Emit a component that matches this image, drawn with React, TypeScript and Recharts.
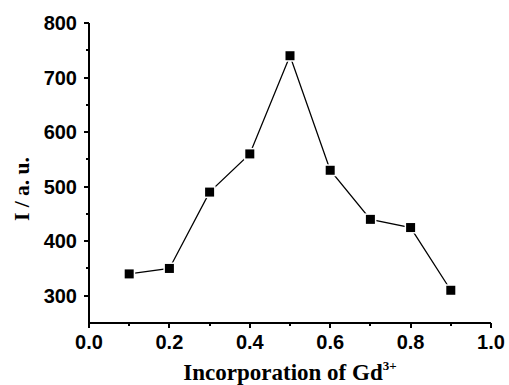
import React from 'react';
import { LineChart, Line, XAxis, YAxis, Label, ReferenceLine } from 'recharts';

const gdFraction = [0.1, 0.2, 0.3, 0.4, 0.5, 0.6, 0.7, 0.8, 0.9];
const intensity = [340, 350, 490, 560, 740, 530, 440, 425, 310];

const xTickValues = [0, 0.1, 0.2, 0.3, 0.4, 0.5, 0.6, 0.7, 0.8, 0.9, 1.0];
const xMajorValues = [0, 0.2, 0.4, 0.6, 0.8, 1.0];
const xMajorLabels = ['0.0', '0.2', '0.4', '0.6', '0.8', '1.0'];

const yTickValues = [300, 350, 400, 450, 500, 550, 600, 650, 700, 750, 800];
const yMajorValues = [300, 400, 500, 600, 700, 800];
const yMajorLabels = ['300', '400', '500', '600', '700', '800'];

const xDomain = [0, 1];
const yDomain = [250, 800];

const xTitle = 'Incorporation of Gd';
const xTitleSup = '3+';
const yTitle = 'I / a. u.';

const data = gdFraction.map((x, i) => ({ x, y: intensity[i] }));

const TICK_FONT = { fontFamily: '"Liberation Sans", Arial, sans-serif', fontWeight: 700, fontSize: 20, fill: '#000' };
const TITLE_FONT = { fontFamily: '"Liberation Serif", "Times New Roman", serif', fontWeight: 700, fill: '#000' };

const findMajor = (values: number[], v: number) => values.findIndex((m) => Math.abs(m - v) < 1e-6);

const XTick = (props: any) => {
  const { x, y, payload } = props;
  const idx = findMajor(xMajorValues, payload.value);
  const major = idx >= 0;
  const px = Math.round(x);
  return (
    <g>
      <rect x={px - 1} y={y} width={2} height={major ? 5 : 3} fill="#000" />
      {major && (
        <text x={x} y={y + 12} dy="0.71em" textAnchor="middle" style={TICK_FONT}>
          {xMajorLabels[idx]}
        </text>
      )}
    </g>
  );
};

const YTick = (props: any) => {
  const { x, y, payload } = props;
  const idx = findMajor(yMajorValues, payload.value);
  const major = idx >= 0;
  const py = Math.round(y);
  const len = major ? 5 : 3;
  return (
    <g>
      <rect x={x - len} y={py - 1} width={len} height={2} fill="#000" />
      {major && (
        <text x={x - 12} y={y} dy="0.355em" textAnchor="end" style={TICK_FONT}>
          {yMajorLabels[idx]}
        </text>
      )}
    </g>
  );
};

const SquareDot = (props: any) => {
  const { cx, cy, index } = props;
  if (cx == null || cy == null) return <g key={`d${index}`} />;
  return (
    <g key={`d${index}`}>
      <rect x={cx - 6} y={cy - 6} width={12} height={12} fill="#fff" />
      <rect x={cx - 4.5} y={cy - 4.5} width={9} height={9} fill="#000" />
    </g>
  );
};

export default function App() {
  return (
    <div style={{ position: 'absolute', left: 0, top: 0, width: 509, height: 385, background: '#fff' }}>
      <LineChart width={509} height={385} data={data} margin={{ top: 23, right: 18, bottom: 0, left: 0 }}>
        <XAxis
          dataKey="x"
          type="number"
          domain={xDomain}
          ticks={xTickValues}
          interval={0}
          height={62}
          tickSize={0}
          tickMargin={0}
          tickLine={false}
          axisLine={false}
          tick={<XTick />}
          allowDataOverflow
        >
          <Label
            content={(p: any) => {
              const vb = p.viewBox || {};
              const cx = vb.x + vb.width / 2;
              const by = vb.y + 57;
              return (
                <text x={cx} y={by} textAnchor="middle" style={{ ...TITLE_FONT, fontSize: 23 }}>
                  {xTitle}
                  <tspan dy={-10} style={{ fontSize: 13 }}>{xTitleSup}</tspan>
                </text>
              );
            }}
          />
        </XAxis>
        <YAxis
          type="number"
          domain={yDomain}
          ticks={yTickValues}
          interval={0}
          width={89}
          tickSize={0}
          tickMargin={0}
          tickLine={false}
          axisLine={false}
          tick={<YTick />}
          allowDataOverflow
        >
          <Label
            content={(p: any) => {
              const vb = p.viewBox || {};
              const x = 29;
              const y = vb.y + vb.height / 2 + 16;
              return (
                <text x={x} y={y} textAnchor="middle" transform={`rotate(-90, ${x}, ${y})`} style={{ ...TITLE_FONT, fontSize: 21.5 }}>
                  {yTitle}
                </text>
              );
            }}
          />
        </YAxis>
        <ReferenceLine x={xDomain[0]} stroke="#000" strokeWidth={2} ifOverflow="visible" />
        <ReferenceLine y={yDomain[0]} stroke="#000" strokeWidth={2} ifOverflow="visible" />
        <Line
          dataKey="y"
          stroke="#000"
          strokeWidth={1.3}
          isAnimationActive={false}
          dot={<SquareDot />}
          activeDot={false}
        />
      </LineChart>
    </div>
  );
}
